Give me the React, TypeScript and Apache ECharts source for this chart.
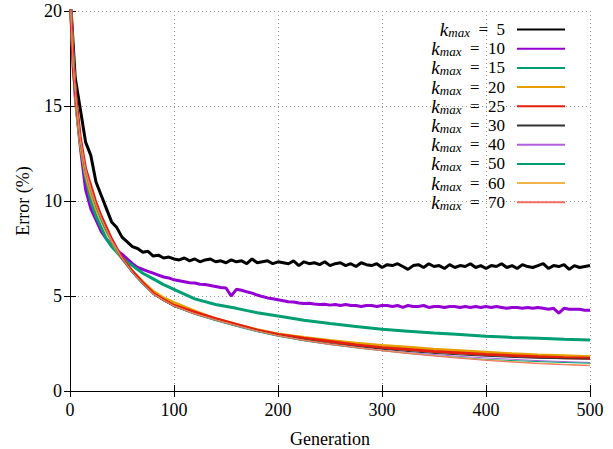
import React, { useEffect, useRef } from "react";
import * as echarts from "echarts";

const gensFine = [
  0, 5, 10, 15, 20, 25, 30, 35, 40, 45, 50, 55, 60, 65, 70, 75, 80, 85, 90, 95, 100,
  105, 110, 115, 120, 125, 130, 135, 140, 145, 150,
  155, 160, 165, 170, 175, 180, 185, 190, 195, 200,
  205, 210, 215, 220, 225, 230, 235, 240, 245, 250,
  255, 260, 265, 270, 275, 280, 285, 290, 295, 300,
  305, 310, 315, 320, 325, 330, 335, 340, 345, 350,
  355, 360, 365, 370, 375, 380, 385, 390, 395, 400,
  405, 410, 415, 420, 425, 430, 435, 440, 445, 450,
  455, 460, 465, 470, 475, 480, 485, 490, 495, 500,
];

const gensCoarse = [
  0, 3, 6, 10, 15, 20, 25, 30, 35, 40, 45, 50, 60, 70, 80, 90, 100, 120, 140, 160, 180,
  200, 225, 250, 275, 300, 325, 350, 375, 400, 425, 450, 475, 500,
];

const k5 = [
  21.0, 16.5, 14.8, 13.1, 12.4, 11.0, 10.3, 9.6, 8.9, 8.6, 8.1, 7.85, 7.6, 7.5, 7.3, 7.35, 7.1, 7.15, 7.0, 7.05, 6.95,
  6.9, 7.0, 6.85, 6.95, 6.8, 6.9, 6.95, 6.8, 6.85, 6.75,
  6.9, 6.8, 6.85, 6.7, 6.95, 6.75, 6.8, 6.85, 6.7, 6.8,
  6.75, 6.7, 6.85, 6.6, 6.8, 6.7, 6.75, 6.65, 6.8, 6.6,
  6.7, 6.75, 6.6, 6.7, 6.55, 6.75, 6.65, 6.6, 6.7, 6.5,
  6.65, 6.6, 6.7, 6.55, 6.4, 6.6, 6.65, 6.5, 6.7, 6.55,
  6.6, 6.45, 6.65, 6.5, 6.6, 6.55, 6.7, 6.5, 6.6, 6.45,
  6.6, 6.55, 6.7, 6.5, 6.6, 6.45, 6.65, 6.55, 6.5, 6.6,
  6.7, 6.45, 6.6, 6.55, 6.65, 6.4, 6.6, 6.5, 6.55, 6.6,
];

const k10 = [
  21.0, 15.5, 12.8, 10.6, 9.6, 9.0, 8.4, 8.0, 7.7, 7.4, 7.2, 6.95, 6.7, 6.5, 6.4, 6.3, 6.2, 6.1, 6.0, 5.95, 5.85,
  5.8, 5.75, 5.7, 5.68, 5.62, 5.6, 5.55, 5.5, 5.45, 5.42,
  5.0, 5.35, 5.3, 5.22, 5.15, 5.05, 4.97, 4.9, 4.85, 4.8,
  4.75, 4.7, 4.68, 4.63, 4.6, 4.62, 4.58, 4.55, 4.57, 4.52,
  4.55, 4.5, 4.55, 4.5, 4.5, 4.45, 4.5, 4.5, 4.45, 4.5,
  4.5, 4.45, 4.5, 4.4, 4.5, 4.45, 4.45, 4.5, 4.4, 4.45,
  4.45, 4.4, 4.45, 4.45, 4.4, 4.45, 4.4, 4.45, 4.4, 4.45,
  4.4, 4.45, 4.4, 4.35, 4.4, 4.4, 4.35, 4.4, 4.35, 4.4,
  4.35, 4.3, 4.35, 4.1, 4.35, 4.3, 4.3, 4.3, 4.25, 4.25,
];

const k15 = [
  21, 17.5, 15, 13, 11.2, 10, 9.2, 8.6, 8.0, 7.6, 7.3, 7.0, 6.6, 6.2, 5.9, 5.6, 5.35,
  4.85, 4.55, 4.35, 4.12, 3.95, 3.72, 3.55, 3.4, 3.25, 3.15, 3.05, 2.97, 2.88, 2.82, 2.77, 2.72, 2.68,
];
const k20 = [
  21, 17.3, 15, 13, 11.4, 10.4, 9.6, 9.0, 8.4, 7.9, 7.4, 7.0, 6.3, 5.75, 5.25, 4.9, 4.65,
  4.2, 3.8, 3.5, 3.22, 3.0, 2.82, 2.66, 2.52, 2.4, 2.3, 2.2, 2.12, 2.04, 1.96, 1.9, 1.85, 1.8,
];
const k25 = [
  21, 17, 15.3, 13.3, 11.7, 10.8, 9.9, 9.2, 8.6, 8.0, 7.5, 7.0, 6.3, 5.7, 5.15, 4.8, 4.5,
  4.15, 3.8, 3.5, 3.2, 2.98, 2.78, 2.6, 2.42, 2.28, 2.18, 2.08, 2.0, 1.92, 1.86, 1.8, 1.75, 1.72,
];
const k30 = [
  21, 17, 15.2, 13.2, 11.6, 10.6, 9.8, 9.1, 8.5, 7.9, 7.45, 7.0, 6.25, 5.65, 5.1, 4.75, 4.45,
  4.05, 3.75, 3.45, 3.17, 2.93, 2.7, 2.5, 2.34, 2.2, 2.08, 1.98, 1.9, 1.83, 1.77, 1.72, 1.7, 1.68,
];
const k40 = [
  21, 17.1, 15.1, 13.1, 11.5, 10.5, 9.7, 9.0, 8.4, 7.85, 7.4, 6.95, 6.2, 5.6, 5.1, 4.75, 4.45,
  4.05, 3.72, 3.42, 3.14, 2.9, 2.66, 2.46, 2.3, 2.15, 2.02, 1.92, 1.82, 1.74, 1.67, 1.6, 1.55, 1.5,
];
const k50 = [
  21, 17.2, 15.1, 13.2, 11.6, 10.6, 9.7, 9.0, 8.4, 7.9, 7.4, 6.95, 6.2, 5.6, 5.1, 4.75, 4.45,
  4.03, 3.7, 3.4, 3.12, 2.88, 2.64, 2.44, 2.27, 2.12, 1.98, 1.86, 1.76, 1.66, 1.6, 1.55, 1.5, 1.46,
];
const k60 = [
  21, 17.2, 15.2, 13.2, 11.6, 10.6, 9.8, 9.1, 8.5, 7.9, 7.45, 7.0, 6.25, 5.65, 5.12, 4.78, 4.48,
  4.07, 3.75, 3.45, 3.16, 2.92, 2.68, 2.47, 2.3, 2.14, 2.0, 1.87, 1.75, 1.64, 1.55, 1.47, 1.41, 1.36,
];
const k70 = [
  21, 17.1, 15.3, 13.3, 11.7, 10.7, 9.8, 9.1, 8.5, 7.95, 7.5, 7.0, 6.25, 5.65, 5.12, 4.77, 4.47,
  4.05, 3.73, 3.43, 3.15, 2.9, 2.66, 2.45, 2.28, 2.12, 1.97, 1.84, 1.72, 1.61, 1.52, 1.44, 1.38, 1.33,
];

const kValues = [5, 10, 15, 20, 25, 30, 40, 50, 60, 70];
const seriesValues = [k5, k10, k15, k20, k25, k30, k40, k50, k60, k70];
const seriesGens = [gensFine, gensFine, gensCoarse, gensCoarse, gensCoarse, gensCoarse, gensCoarse, gensCoarse, gensCoarse, gensCoarse];
const colors = ["#000000", "#9400d3", "#009e73", "#e69f00", "#e51e10", "#333333", "#b35ee0", "#009e73", "#efb447", "#ef6f66"];
const widths = [3, 3, 3, 3, 3, 1, 1, 1, 1, 1];

const xTicks = [0, 100, 200, 300, 400, 500];
const yTicks = [0, 5, 10, 15, 20];

const FONT = "'Liberation Serif', 'DejaVu Serif', serif";

export default function App() {
  const ref = useRef<HTMLDivElement>(null);
  useEffect(() => {
    if (!ref.current) return;
    const chart = echarts.init(ref.current, null, { renderer: "svg" });
    const names = kValues.map((k) => `k_max = ${k}`);
    const series = seriesValues.map((vals, i) => ({
      name: names[i],
      type: "line",
      data: vals.map((v, j) => [seriesGens[i][j], v]),
      showSymbol: false,
      symbol: "none",
      xAxisIndex: 0,
      yAxisIndex: 0,
      lineStyle: { color: colors[i], width: widths[i] },
      itemStyle: { color: colors[i] },
      clip: true,
      z: 2 + i,
    }));
    const commonAxisLine = { show: true, lineStyle: { color: "#000", width: 1 } };
    const tick = { show: true, inside: true, length: 6, lineStyle: { color: "#000", width: 1 } };
    chart.setOption({
      animation: false,
      grid: { left: 70, right: 23, top: 11, bottom: 58, containLabel: false, outerBoundsMode: "none" },
      legend: {
        orient: "vertical",
        right: 42,
        top: 15,
        align: "right",
        itemWidth: 48,
        itemHeight: 14,
        itemGap: 0.2,
        data: names,
        itemStyle: { color: "transparent", borderWidth: 0, opacity: 0 },
        formatter: (name: string) => {
          const k = name.split("= ")[1];
          return `{i|k}{s|max}{n|\u2002=\u2002${k}}`;
        },
        textStyle: {
          color: "#000",
          fontFamily: FONT,
          fontSize: 17,
          padding: [0, 7, 0, 0],
          rich: {
            i: { fontFamily: FONT, fontStyle: "italic", fontSize: 19, color: "#000" },
            s: { fontFamily: FONT, fontStyle: "italic", fontSize: 13, color: "#000", padding: [6, 0, 0, 0] },
            n: { fontFamily: FONT, fontSize: 17, color: "#000" },
          },
        },
      },
      xAxis: [
        {
          type: "value",
          position: "bottom",
          min: xTicks[0],
          max: xTicks[xTicks.length - 1],
          interval: 100,
          name: "Generation",
          nameLocation: "middle",
          nameGap: 39,
          nameTextStyle: { fontFamily: FONT, fontSize: 18, color: "#000" },
          axisLine: commonAxisLine,
          axisTick: tick,
          axisLabel: { fontFamily: FONT, fontSize: 18, color: "#000", margin: 10 },
          splitLine: { show: true, lineStyle: { type: [1, 3], color: "#999", width: 1 } },
        },
        {
          type: "value",
          position: "top",
          min: xTicks[0],
          max: xTicks[xTicks.length - 1],
          interval: 100,
          axisLine: commonAxisLine,
          axisTick: tick,
          axisLabel: { show: false },
          splitLine: { show: false },
        },
      ],
      yAxis: [
        {
          type: "value",
          position: "left",
          min: yTicks[0],
          max: yTicks[yTicks.length - 1],
          interval: 5,
          name: "Error (%)",
          nameLocation: "middle",
          nameGap: 38,
          nameRotate: 90,
          nameTextStyle: { fontFamily: FONT, fontSize: 18, color: "#000" },
          axisLine: commonAxisLine,
          axisTick: tick,
          axisLabel: { fontFamily: FONT, fontSize: 18, color: "#000", margin: 8 },
          splitLine: { show: true, lineStyle: { type: [1, 3], color: "#999", width: 1 } },
        },
        {
          type: "value",
          position: "right",
          min: yTicks[0],
          max: yTicks[yTicks.length - 1],
          interval: 5,
          axisLine: commonAxisLine,
          axisTick: tick,
          axisLabel: { show: false },
          splitLine: { show: false },
        },
      ],
      series,
    });
    return () => chart.dispose();
  }, []);
  return <div ref={ref} style={{ width: 613, height: 449, position: "absolute", left: 0, top: 0, background: "#fff" }} />;
}
